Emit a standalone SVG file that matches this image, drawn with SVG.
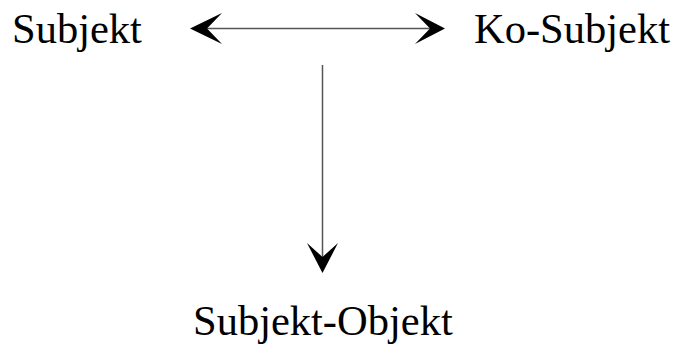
<svg xmlns="http://www.w3.org/2000/svg" width="677" height="345" viewBox="0 0 677 345">
  <style>
    .label { font-family: "Liberation Serif", "Times New Roman", serif; font-size: 42.5px; fill: #000; }
    .edge { stroke: #555; stroke-width: 1.5; fill: none; }
    .head { fill: #000; stroke: none; }
  </style>
  <rect width="677" height="345" fill="#fff"/>
  <g id="subjekt"><text class="label" x="12" y="43">Subjekt</text></g>
  <g id="ko-subjekt"><text class="label" x="474" y="43">Ko-Subjekt</text></g>
  <g id="subjekt-objekt"><text class="label" x="193" y="335">Subjekt-Objekt</text></g>
  <g id="connectors">
    <line class="edge" x1="205" y1="28.5" x2="432" y2="28.5"/>
    <path class="head" d="M190 28.5 L222 13 L207 28.5 L222 44 Z"/>
    <path class="head" d="M445 28.5 L415 13 L430 28.5 L415 44 Z"/>
    <line class="edge" x1="322.5" y1="65" x2="322.5" y2="260"/>
    <path class="head" d="M322.5 273 L307 243 L322.5 257 L338 243 Z"/>
  </g>
</svg>
